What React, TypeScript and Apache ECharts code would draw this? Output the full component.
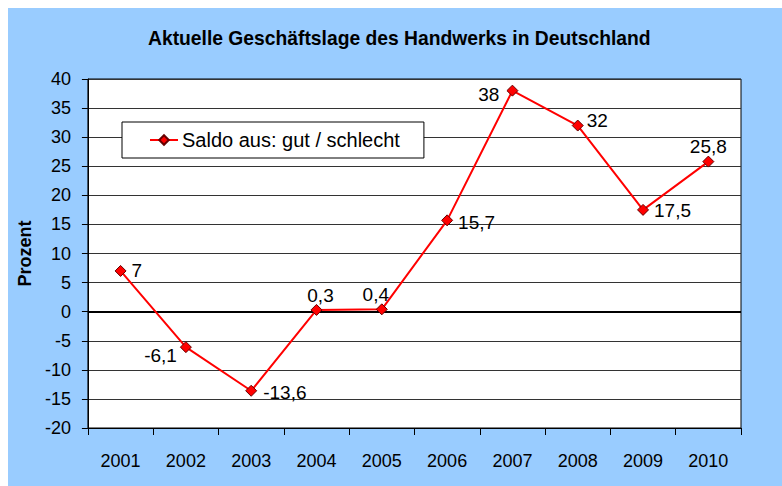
import React, { useEffect, useRef } from "react";
import * as echarts from "echarts";

const categories = ["2001", "2002", "2003", "2004", "2005", "2006", "2007", "2008", "2009", "2010"];
const saldo = [7, -6.1, -13.6, 0.3, 0.4, 15.7, 38, 32, 17.5, 25.8];
const labelPositions = ["right", "left", "right", "top", "top", "right", "left", "right", "right", "top"];
const labelOffsets: number[][] = [[-2, 0], [4, 8], [-1, 2], [4, 8], [-6, 8], [-2, 2], [0, 4], [-4, -5], [-2, 1], [0, 7]];
const seriesName = "Saldo aus: gut / schlecht";
const titleText = "Aktuelle Geschäftslage des Handwerks in Deutschland";
const yName = "Prozent";

const FONT = "'Liberation Sans', Arial, sans-serif";

export default function App() {
  const ref = useRef<HTMLDivElement>(null);
  useEffect(() => {
    if (!ref.current) return;
    const chart = echarts.init(ref.current, undefined, { renderer: "svg" });
    chart.setOption({
      animation: false,
      backgroundColor: "#99CCFF",
      textStyle: { fontFamily: FONT },
      title: {
        text: titleText,
        left: 140,
        top: 21,
        padding: 0,
        textStyle: { fontFamily: FONT, fontSize: 19.3, fontWeight: "bold", color: "#000" },
      },
      legend: {
        data: [seriesName],
        left: 114,
        top: 114,
        orient: "horizontal",
        backgroundColor: "#fff",
        borderColor: "#000",
        borderWidth: 1,
        borderRadius: 0,
        padding: [8, 24, 8, 27],
        itemWidth: 28,
        itemHeight: 12,
        itemGap: 5,
        textStyle: { fontFamily: FONT, fontSize: 20, color: "#000", padding: [0, 0, 0, -1] },
      },
      grid: {
        left: 79,
        top: 71,
        right: 41,
        bottom: 58,
        show: true,
        backgroundColor: "#fff",
        borderColor: "#000",
        borderWidth: 1,
        containLabel: false,
      },
      xAxis: {
        type: "category",
        data: categories,
        boundaryGap: true,
        position: "bottom",
        axisLine: { onZero: false, lineStyle: { color: "#000", width: 1 } },
        axisTick: { show: true, length: 7, alignWithLabel: false, lineStyle: { color: "#000" } },
        axisLabel: { margin: 24, fontFamily: FONT, fontSize: 18, color: "#000" },
        splitLine: { show: false },
      },
      yAxis: {
        type: "value",
        min: -20,
        max: 40,
        interval: 5,
        name: yName,
        nameLocation: "middle",
        nameGap: 52,
        nameTextStyle: { fontFamily: FONT, fontSize: 18, fontWeight: "bold", color: "#000" },
        axisLine: { show: true, lineStyle: { color: "#000", width: 1 } },
        axisTick: { show: true, length: 6, inside: false, lineStyle: { color: "#000" } },
        axisLabel: { margin: 17, fontFamily: FONT, fontSize: 18, color: "#000" },
        splitLine: { show: true, lineStyle: { color: "#333", width: 1 } },
      },
      series: [
        {
          name: seriesName,
          type: "line",
          z: 3,
          data: saldo.map((v, i) => ({
            value: v,
            label: {
              position: labelPositions[i],
              offset: labelOffsets[i],
            },
          })),
          symbol: "diamond",
          symbolSize: 11,
          itemStyle: { color: "#FF0000", borderColor: "#660000", borderWidth: 1 },
          lineStyle: { color: "#FF0000", width: 2 },
          label: {
            show: true,
            distance: 7,
            fontFamily: FONT,
            fontSize: 19,
            color: "#000",
            formatter: (p: any) => String(p.value).replace(".", ","),
          },
          markLine: {
            silent: true,
            symbol: "none",
            z: 1,
            label: { show: false },
            lineStyle: { color: "#000", width: 2, type: "solid" },
            data: [{ yAxis: 0 }],
          },
        },
      ],
    });
    return () => chart.dispose();
  }, []);
  return (
    <div
      ref={ref}
      style={{ position: "absolute", left: 8, top: 8, width: 774, height: 478 }}
    />
  );
}
